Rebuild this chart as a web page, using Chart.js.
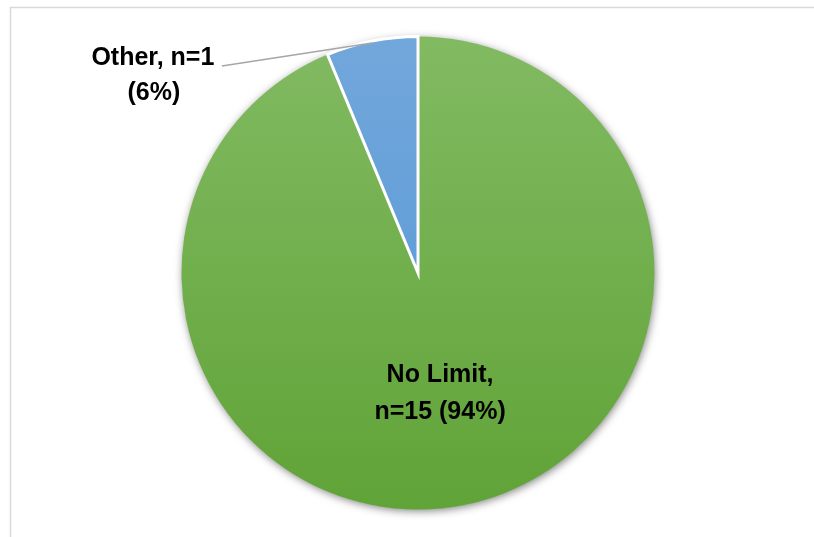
<!DOCTYPE html>
<html>
<head>
<meta charset="utf-8">
<script src="https://cdn.jsdelivr.net/npm/chart.js"></script>
<style>
  html, body { margin: 0; padding: 0; background: #fff; }
  #wrap { width: 814px; height: 537px; position: relative; }
</style>
</head>
<body>
<div id="wrap"><canvas id="myChart" width="814" height="537"></canvas></div>
<script>
// survey answers
const categories = ["No Limit", "Other"];
const counts = [15, 1];
const percents = [94, 6];
const labelLines = [["No Limit,", "n=15 (94%)"], ["Other, n=1", "(6%)"]];

// top/bottom colours of each slice gradient
const topColors = ["#82ba62", "#72a7db"];
const bottomColors = ["#60a337", "#5296d5"];

function sliceFill(ctx) {
   const chart = ctx.chart;
   const area = chart.chartArea;
   if (!area) return topColors[ctx.dataIndex];
   const g = chart.ctx.createLinearGradient(0, area.top, 0, area.bottom);
   g.addColorStop(0, topColors[ctx.dataIndex]);
   g.addColorStop(1, bottomColors[ctx.dataIndex]);
   return g;
}

// thin frame round the plot + soft shadow under the pie
const framePlugin = {
   id: 'frame',
   beforeDraw(chart) {
      const c = chart.ctx;
      c.save();
      c.strokeStyle = '#d9d9d9';
      c.lineWidth = 1.5;
      c.beginPath();
      c.moveTo(10.5, chart.height);
      c.lineTo(10.5, 7.5);
      c.lineTo(chart.width, 7.5);
      c.stroke();
      c.restore();
   },
   beforeDatasetsDraw(chart) {
      const arc = chart.getDatasetMeta(0).data[0];
      if (!arc) return;
      const c = chart.ctx;
      c.save();
      c.shadowColor = 'rgba(0,0,0,0.5)';
      c.shadowBlur = 8;
      c.shadowOffsetX = 1;
      c.shadowOffsetY = 2;
      c.fillStyle = '#fff';
      c.beginPath();
      c.arc(arc.x, arc.y, arc.outerRadius - 0.5, 0, Math.PI * 2);
      c.fill();
      c.restore();
   }
};

// data labels, one inside, one outside with a leader line
const labelPlugin = {
   id: 'sliceLabels',
   afterDatasetsDraw(chart) {
      const c = chart.ctx;
      const arcs = chart.getDatasetMeta(0).data;
      c.save();
      c.font = 'bold 25px "Liberation Sans", Arial, sans-serif';
      c.fillStyle = '#000';
      c.textAlign = 'center';
      c.textBaseline = 'middle';

      // inside label
      let a = arcs[0];
      let mid = (a.startAngle + a.endAngle) / 2;
      let x = a.x + Math.cos(mid) * a.outerRadius * 0.5 - 1;
      let y = a.y + Math.sin(mid) * a.outerRadius * 0.5 + 4;
      c.fillText(labelLines[0][0], x, y - 18);
      c.fillText(labelLines[0][1], x, y + 19);

      // outside label
      a = arcs[1];
      mid = (a.startAngle + a.endAngle) / 2;
      const ax = a.x + Math.cos(mid) * a.outerRadius;
      const ay = a.y + Math.sin(mid) * a.outerRadius + 2;
      const ex = ax - 150, ey = ay + 23;
      c.strokeStyle = '#a6a6a6';
      c.lineWidth = 1.5;
      c.beginPath();
      c.moveTo(ax, ay);
      c.lineTo(ex, ey);
      c.stroke();
      c.fillText(labelLines[1][0], ex - 69, ey - 8);
      c.fillText(labelLines[1][1], ex - 68, ey + 27);
      c.restore();
   }
};

new Chart(document.getElementById("myChart"), {
   type: 'pie',
   data: {
      labels: categories,
      datasets: [{
         data: counts,
         backgroundColor: sliceFill,
         borderColor: '#ffffff',
         borderWidth: [0, 3],
         hoverBorderWidth: [0, 3],
         borderJoinStyle: 'miter'
      }]
   },
   options: {
      responsive: false,
      animation: false,
      events: [],
      layout: { padding: { left: 180, right: 158, top: 35, bottom: 26 } },
      plugins: {
         legend: { display: false },
         tooltip: { enabled: false },
         title: { display: false }
      }
   },
   plugins: [framePlugin, labelPlugin]
});
</script>
</body>
</html>
